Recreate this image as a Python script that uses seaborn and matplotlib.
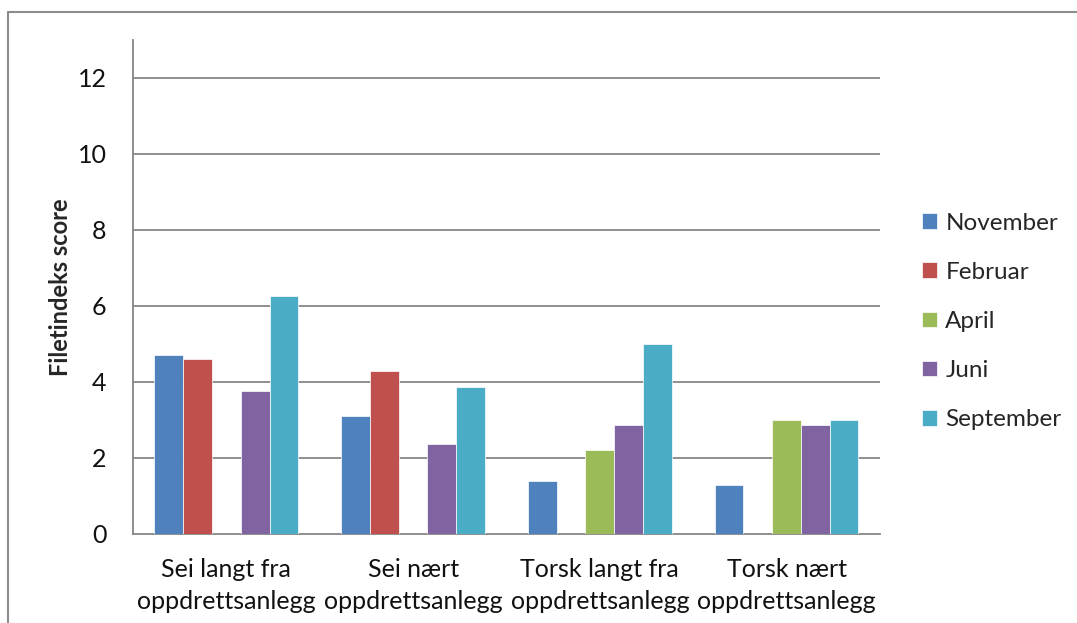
import matplotlib
matplotlib.use("Agg")
import matplotlib.pyplot as plt
from matplotlib.lines import Line2D
import pandas as pd
import seaborn as sns

# kategorier og serier lest av figuren
grupper = ["Sei langt fra\noppdrettsanlegg", "Sei nært\noppdrettsanlegg",
           "Torsk langt fra\noppdrettsanlegg", "Torsk nært\noppdrettsanlegg"]
maaneder = ["November", "Februar", "April", "Juni", "September"]
november = [4.7, 3.1, 1.4, 1.3]
februar = [4.6, 4.3, 0.0, 0.0]
april = [0.0, 0.0, 2.2, 3.0]
juni = [3.75, 2.38, 2.88, 2.88]
september = [6.25, 3.88, 5.0, 3.0]
farger = ["#4F81BD", "#C0504D", "#9BBB59", "#8064A2", "#4BACC6"]

serier = [november, februar, april, juni, september]
rows = []
for m, verdier in zip(maaneder, serier):
    for g, v in zip(grupper, verdier):
        rows.append({"gruppe": g, "maaned": m, "score": v})
df = pd.DataFrame(rows)

sns.set_style("white")
plt.rcParams["font.family"] = ["Lato", "DejaVu Sans"]
fs = 18

fig = plt.figure(figsize=(10.77, 6.23), dpi=100)
ax = fig.add_axes([0.1235, 0.1429, 0.8170 - 0.1235, 0.9358 - 0.1429])

sns.barplot(data=df, x="gruppe", y="score", hue="maaned", order=grupper,
            hue_order=maaneder, palette=farger, width=0.77, saturation=1,
            edgecolor="white", linewidth=0.5, errorbar=None, ax=ax, zorder=3)

grid = "#868686"
ax.set_ylim(0, 13)
ax.set_xlim(-0.5, 3.5)
ax.set_yticks(range(0, 13, 2))
for y in range(2, 13, 2):
    ax.axhline(y, color=grid, lw=1.3, zorder=1)
ax.set_xticks(range(4))
ax.set_xticklabels(grupper, linespacing=1.5)
ax.set_xticks([-0.5, 0.5, 1.5, 2.5, 3.5], minor=True)
ax.tick_params(axis="x", which="major", length=0, pad=17, labelsize=fs,
               labelcolor="#111111")
ax.tick_params(axis="x", which="minor", length=6, color=grid, width=1.3)
ax.tick_params(axis="y", length=7, color=grid, width=1.3, pad=12,
               labelsize=fs, labelcolor="#111111")
ax.set_xlabel("")
ax.set_ylabel("Filetindeks score", fontweight="bold", fontsize=fs - 1,
              labelpad=4)
for s in ["top", "right"]:
    ax.spines[s].set_visible(False)
for s in ["left", "bottom"]:
    ax.spines[s].set_color(grid)
    ax.spines[s].set_linewidth(1.3)

ax.legend(loc="center left", bbox_to_anchor=(0.836, 0.484),
          bbox_transform=fig.transFigure, frameon=False, fontsize=fs - 0.5,
          handlelength=0.6, handleheight=0.6, handletextpad=0.35,
          labelspacing=1.16)

# ramme rundt diagramområdet
fig.add_artist(Line2D([8 / 1077, 8 / 1077], [0, 1 - 12 / 623],
                      transform=fig.transFigure, color="#8c8c8c", lw=1.5))
fig.add_artist(Line2D([8 / 1077, 1], [1 - 12 / 623, 1 - 12 / 623],
                      transform=fig.transFigure, color="#8c8c8c", lw=1.5))

fig.savefig("out.png", dpi=100)
